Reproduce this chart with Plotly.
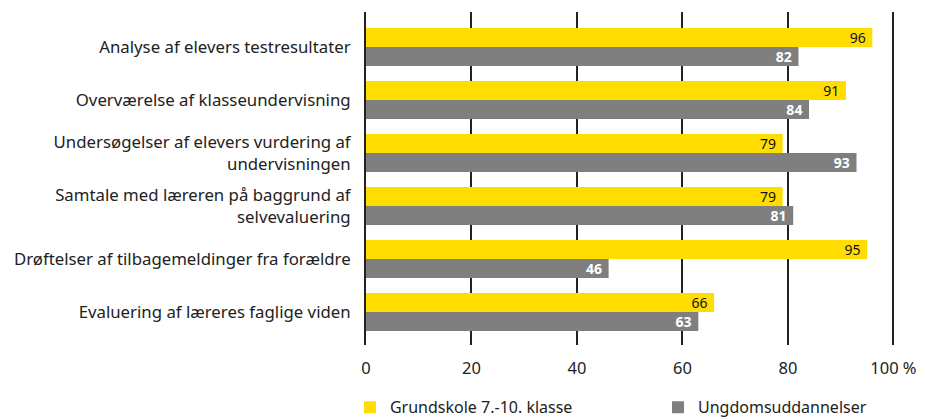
import plotly.graph_objects as go

categories = [
    "Analyse af elevers testresultater",
    "Overværelse af klasseundervisning",
    "Undersøgelser af elevers vurdering af<br>undervisningen",
    "Samtale med læreren på baggrund af<br>selvevaluering",
    "Drøftelser af tilbagemeldinger fra forældre",
    "Evaluering af læreres faglige viden",
]
grundskole = [96, 91, 79, 79, 95, 66]
ungdom = [82, 84, 93, 81, 46, 63]
series_names = ["Grundskole 7.-10. klasse", "Ungdomsuddannelser"]
tick_vals = [0, 20, 40, 60, 80, 100]
tick_text = ["0", "20", "40", "60", "80", "100 %"]

FONT = "Noto Sans"
YELLOW = "#FFDD00"
GRAY = "#7F7F7F"

fig = go.Figure()
fig.add_trace(go.Bar(
    y=categories, x=grundskole, orientation="h", name=series_names[0],
    marker=dict(color=YELLOW, line=dict(width=0)),
    texttemplate="%{x}\u00a0", textposition="inside", insidetextanchor="end",
    textangle=0, constraintext="none",
    textfont=dict(family=FONT, size=14, color="#111111"),
    hoverinfo="skip",
))
fig.add_trace(go.Bar(
    y=categories, x=ungdom, orientation="h", name=series_names[1],
    marker=dict(color=GRAY, line=dict(width=0)),
    texttemplate="%{x}\u00a0", textposition="inside", insidetextanchor="end",
    textangle=0, constraintext="none",
    textfont=dict(family=FONT, size=14, color="#FFFFFF", weight="bold"),
    hoverinfo="skip",
))

fig.update_layout(
    width=925, height=420,
    margin=dict(l=358, r=38, t=4, b=83, autoexpand=False),
    paper_bgcolor="white", plot_bgcolor="white",
    barmode="group", bargap=0.283, bargroupgap=0,
    font=dict(family=FONT, size=16, color="#222222"),
    showlegend=True,
    legend=dict(
        orientation="h", x=-0.0303, xanchor="left", y=-0.136, yanchor="top",
        font=dict(family=FONT, size=16, color="#222222"),
        entrywidth=263, entrywidthmode="pixels",
        traceorder="normal",
    ),
    xaxis=dict(
        range=[0, 100.3], tickvals=tick_vals, ticktext=tick_text,
        showgrid=True, gridcolor="#222222", gridwidth=1.5,
        zeroline=False, showline=False, ticks="", automargin=False,
        ticklabelstandoff=11,
        tickfont=dict(family=FONT, size=16.5, color="#222222"),
    ),
    yaxis=dict(
        range=[5.623, -0.66], showgrid=False, zeroline=False,
        showline=True, linecolor="#222222", linewidth=2,
        ticks="", ticklabelstandoff=10, automargin=False,
        tickfont=dict(family=FONT, size=16.8, color="#222222"),
    ),
)

fig.write_html("out.html")
